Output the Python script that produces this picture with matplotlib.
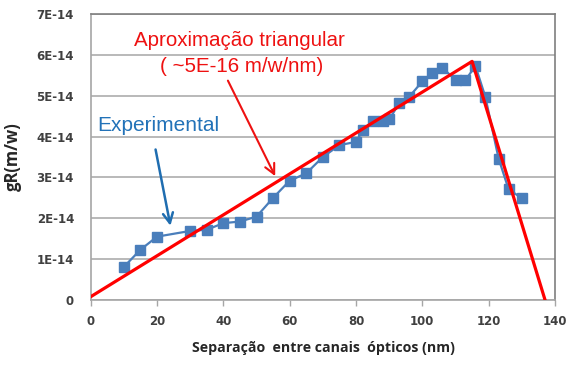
import matplotlib
matplotlib.use("Agg")
import matplotlib.pyplot as plt

# Experimental Raman gain points (x in nm, y in units of 1E-14 m/W)
sep_nm = [10, 15, 20, 30, 35, 40, 45, 50, 55, 60, 65, 70, 75, 80, 82, 85, 88, 90,
          93, 96, 100, 103, 106, 110, 113, 116, 119, 123, 126, 130]
gain_e14 = [0.81, 1.23, 1.55, 1.69, 1.72, 1.88, 1.92, 2.04, 2.50, 2.92, 3.10, 3.50,
            3.79, 3.87, 4.15, 4.38, 4.38, 4.42, 4.81, 4.97, 5.35, 5.56, 5.69, 5.38,
            5.38, 5.73, 4.97, 3.46, 2.71, 2.49]

# Triangular approximation vertices
tri_x = [0, 115, 137]
tri_y = [0.08, 5.84, 0.0]

y_ticks = [0, 1, 2, 3, 4, 5, 6, 7]
y_tick_labels = ["0", "1E-14", "2E-14", "3E-14", "4E-14", "5E-14", "6E-14", "7E-14"]
x_ticks = [0, 20, 40, 60, 80, 100, 120, 140]

fig = plt.figure(figsize=(5.69, 3.67), dpi=100)
ax = fig.add_axes([0.1594, 0.1826, 0.816, 0.7793])

ax.set_xlim(0, 140)
ax.set_ylim(0, 7)
ax.set_yticks(y_ticks)
ax.set_yticklabels(y_tick_labels)
ax.set_xticks(x_ticks)
ax.grid(axis="y", color="#a6a6a6", lw=1.1, zorder=0)

for s in ["top", "right"]:
    ax.spines[s].set_color("#7f7f7f")
    ax.spines[s].set_linewidth(1.2)
for s in ["left", "bottom"]:
    ax.spines[s].set_color("#a6a6a6")
    ax.spines[s].set_linewidth(1.2)
ax.tick_params(axis="x", colors="#a6a6a6", length=4, width=1, labelcolor="#404040",
               labelsize=8.5, pad=7)
ax.tick_params(axis="y", length=0, labelcolor="#404040", labelsize=8.5, pad=12)
for lab in ax.get_xticklabels() + ax.get_yticklabels():
    lab.set_family("DejaVu Sans")
    lab.set_fontweight("bold")

ax.plot(sep_nm, gain_e14, color="#4a7ebb", lw=1.6, marker="s", ms=6.5,
        markeredgecolor="#4a7ebb", zorder=3)
ax.plot(tri_x, tri_y, color="#ff0000", lw=2.3, zorder=4)

# annotations
ax.text(44.7, 6.36, "Aproximação triangular", color="#ee1111", fontsize=14.8,
        family="Liberation Sans", ha="center", va="center")
ax.text(45.6, 5.72, "( ~5E-16 m/w/nm)", color="#ee1111", fontsize=14.8,
        family="Liberation Sans", ha="center", va="center")
ax.annotate("", xy=(56, 2.97), xytext=(41, 5.43),
            arrowprops=dict(arrowstyle="->", color="#ee1111", lw=1.5,
                            mutation_scale=18), zorder=5)

ax.text(1.9, 4.28, "Experimental", color="#2272b8", fontsize=15,
        family="Liberation Sans", ha="left", va="center")
ax.annotate("", xy=(24.2, 1.75), xytext=(19.4, 3.75),
            arrowprops=dict(arrowstyle="->", color="#1f6db0", lw=1.8,
                            mutation_scale=18), zorder=5)

ax.set_xlabel("Separação  entre canais  ópticos (nm)", family="Open Sans",
              fontweight="bold", fontsize=10.2, color="#262626")
ax.xaxis.set_label_coords(0.502, -0.145)
ax.set_ylabel("gR(m/w)", family="Open Sans", fontweight="bold", fontsize=12,
              color="#262626")
ax.yaxis.set_label_coords(-0.148, 0.5)

fig.savefig("out.png", dpi=100)
